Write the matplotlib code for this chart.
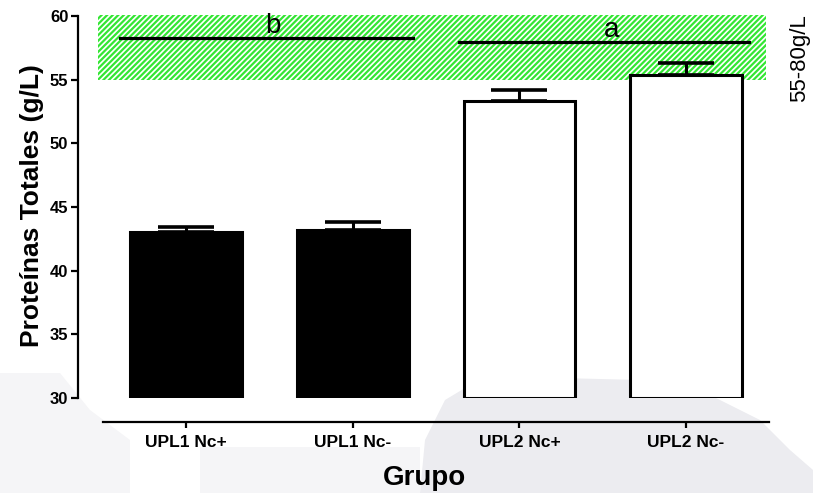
import matplotlib
matplotlib.use('Agg')
import numpy as np
import matplotlib.pyplot as plt
from matplotlib.patches import Rectangle, Polygon

plt.rcParams['font.family'] = ['Liberation Sans', 'DejaVu Sans']
plt.rcParams['hatch.linewidth'] = 1.6

# datos: proteinas totales por grupo (media y error)
grupos = ['UPL1 Nc+', 'UPL1 Nc-', 'UPL2 Nc+', 'UPL2 Nc-']
medias = [43.0, 43.2, 53.35, 55.4]
errores = [0.45, 0.6, 0.85, 0.95]
relleno = ['black', 'black', 'white', 'white']

# rango de referencia 55-80 g/L (solo se ve hasta 60)
rango_ref = [55, 60.1]

# letras de significancia: (letra, x inicio, x fin, altura)
signif = [('b', -0.40, 1.36, 58.3), ('a', 1.64, 3.38, 57.95)]

base = 30

fig = plt.figure(figsize=(8.13, 4.93), dpi=100)

# marca de agua gris claro del documento (coordenadas en pixeles)
wm = [
    ([(0, 373), (60, 373), (90, 410), (130, 440), (130, 493), (0, 493)], '#f5f5f7'),
    ([(200, 447), (420, 447), (420, 493), (200, 493)], '#f5f5f7'),
    ([(420, 493), (425, 440), (445, 400), (470, 385), (560, 378), (640, 380),
      (700, 390), (760, 420), (790, 450), (813, 470), (813, 493)], '#ececf0'),
]
for pts, col in wm:
    pts = [(px / 813, 1 - py / 493) for px, py in pts]
    fig.patches.append(Polygon(pts, closed=True, transform=fig.transFigure,
                               facecolor=col, edgecolor='none', zorder=-10))

ax = fig.add_axes([78 / 813, 95 / 493, 693 / 813, 384.5 / 493])
ax.set_facecolor('none')

x = np.arange(len(grupos))
alturas = np.array(medias) - base

# banda verde rayada del rango normal
ax.add_patch(Rectangle((-0.528, rango_ref[0]), 4.01, rango_ref[1] - rango_ref[0],
                       facecolor='white', edgecolor='#33e633', hatch='//////',
                       linewidth=0, zorder=1))

ax.bar(x, alturas, width=0.67, bottom=base, color=relleno, edgecolor='black',
       linewidth=2.2, zorder=3)
ax.errorbar(x, medias, yerr=[np.zeros(4), errores], fmt='none', ecolor='black',
            elinewidth=2.2, capsize=20, capthick=2.6, zorder=2)

for letra, x0, x1, y in signif:
    ax.plot([x0, x1], [y, y], color='black', linewidth=2.3, zorder=4)
    ax.text((x0 + x1) / 2 + 0.04, y - 0.1, letra, ha='center', va='bottom',
            fontsize=20, zorder=5)

ax.set_xlim(-0.65, 3.51)
ax.set_ylim(base, 60.2)

ax.spines['top'].set_visible(False)
ax.spines['right'].set_visible(False)
ax.spines['left'].set_linewidth(1.6)
ax.spines['left'].set_bounds(30, 60)
ax.spines['bottom'].set_linewidth(1.6)
ax.spines['bottom'].set_position(('outward', 17.5))
ax.spines['bottom'].set_bounds(-0.5, 3.5)

# los ticks se fijan despues de mover el eje x
ax.set_yticks([30, 35, 40, 45, 50, 55, 60])
ax.set_xticks(x)
ax.set_xticklabels(grupos, fontsize=12.5, fontweight='bold')
ax.set_yticklabels(['30', '35', '40', '45', '50', '55', '60'], fontsize=12, fontweight='bold')
ax.tick_params(axis='y', length=5, width=1.6, pad=2)
ax.tick_params(axis='x', length=4, width=1.6, pad=5)

ax.set_ylabel('Proteínas Totales (g/L)', fontsize=19, fontweight='bold', labelpad=4)
ax.set_xlabel('Grupo', fontsize=20, fontweight='bold', labelpad=11)

fig.text(800 / 813, 1 - 58 / 493, '55-80g/L', rotation=90, ha='center',
         va='center', fontsize=16)

fig.savefig('out.png', dpi=100)
